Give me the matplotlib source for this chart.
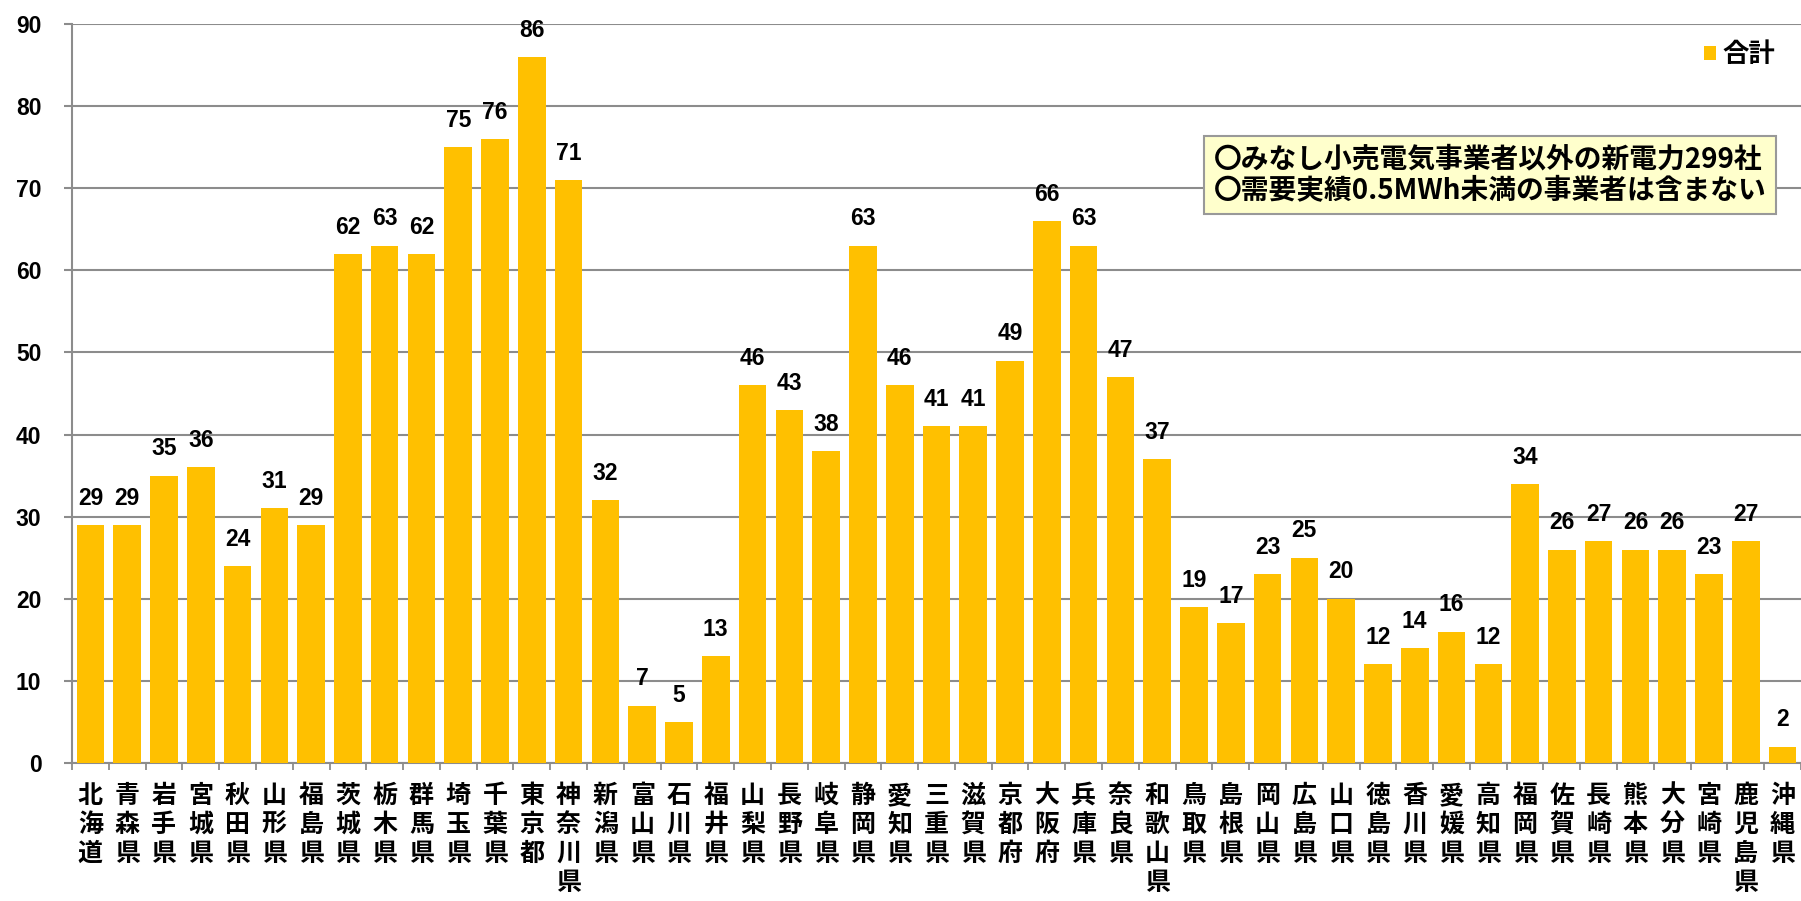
import matplotlib
matplotlib.use("Agg")
import matplotlib.pyplot as plt
import numpy as np

plt.rcParams['font.family'] = ['Liberation Sans', 'Noto Sans CJK JP', 'DejaVu Sans']

# 都道府県と新電力の数
pref = ["北海道", "青森県", "岩手県", "宮城県", "秋田県", "山形県", "福島県",
        "茨城県", "栃木県", "群馬県", "埼玉県", "千葉県", "東京都", "神奈川県",
        "新潟県", "富山県", "石川県", "福井県", "山梨県", "長野県", "岐阜県",
        "静岡県", "愛知県", "三重県", "滋賀県", "京都府", "大阪府", "兵庫県",
        "奈良県", "和歌山県", "鳥取県", "島根県", "岡山県", "広島県", "山口県",
        "徳島県", "香川県", "愛媛県", "高知県", "福岡県", "佐賀県", "長崎県",
        "熊本県", "大分県", "宮崎県", "鹿児島県", "沖縄県"]
total = [29, 29, 35, 36, 24, 31, 29,
         62, 63, 62, 75, 76, 86, 71,
         32, 7, 5, 13, 46, 43, 38,
         63, 46, 41, 41, 49, 66, 63,
         47, 37, 19, 17, 23, 25, 20,
         12, 14, 16, 12, 34, 26, 27,
         26, 26, 23, 27, 2]

note = "〇みなし小売電気事業者以外の新電力299社\n〇需要実績0.5MWh未満の事業者は含まない"

fig = plt.figure(figsize=(18.01, 9.01), dpi=100)
ax = fig.add_axes([72/1801, 1-763/901, 1-72/1801, (763-24)/901])

x = np.arange(len(pref))
bars = ax.bar(x, total, width=0.75, color="#FFC000", label="合計", zorder=3)

for xi, v in zip(x, total):
    ax.annotate(str(v), (xi, v), xytext=(0, 11), textcoords="offset points",
                ha="center", va="bottom", fontsize=16.5, fontweight="bold")

ax.set_xlim(-0.5, len(pref) - 0.5)
ax.set_ylim(0, 90)
ax.set_yticks(np.arange(0, 91, 10))
ax.yaxis.grid(True, color="#8c8c8c", linewidth=1.5, zorder=0)

ax.set_xticks(x)
ax.set_xticklabels(["\n".join(p) for p in pref], fontsize=18, fontweight="bold",
                   va="top", linespacing=1.27, family=['Noto Sans CJK JP'])
ax.set_xticks(np.arange(-0.5, len(pref), 1), minor=True)
ax.tick_params(axis="x", which="major", length=0, pad=15)
ax.tick_params(axis="x", which="minor", length=5, width=1.3, color="#8c8c8c", direction="out")
ax.tick_params(axis="y", length=6, width=1.5, color="#8c8c8c", pad=16, labelsize=16.5)
for lab in ax.get_yticklabels():
    lab.set_fontweight("bold")

for s in ["top", "right"]:
    ax.spines[s].set_visible(False)
for s in ["left", "bottom"]:
    ax.spines[s].set_color("#8c8c8c")
    ax.spines[s].set_linewidth(1.5)

leg = ax.legend(loc="center right", bbox_to_anchor=(1799/1801, 1-55/901),
                bbox_transform=fig.transFigure, frameon=False,
                handlelength=0.45, handleheight=0.45, handletextpad=0.25,
                prop={'family': ['Noto Sans CJK JP'], 'weight': 'bold', 'size': 19})

fig.text(1214/1801, 1-175/901, note, fontsize=20, fontweight="bold",
         family=['Noto Sans CJK JP'], va="center", ha="left", linespacing=1.15,
         bbox=dict(boxstyle="square,pad=0.35", fc="#FFFFCC", ec="#999999", lw=1.5))

fig.savefig("out.png", dpi=100)
